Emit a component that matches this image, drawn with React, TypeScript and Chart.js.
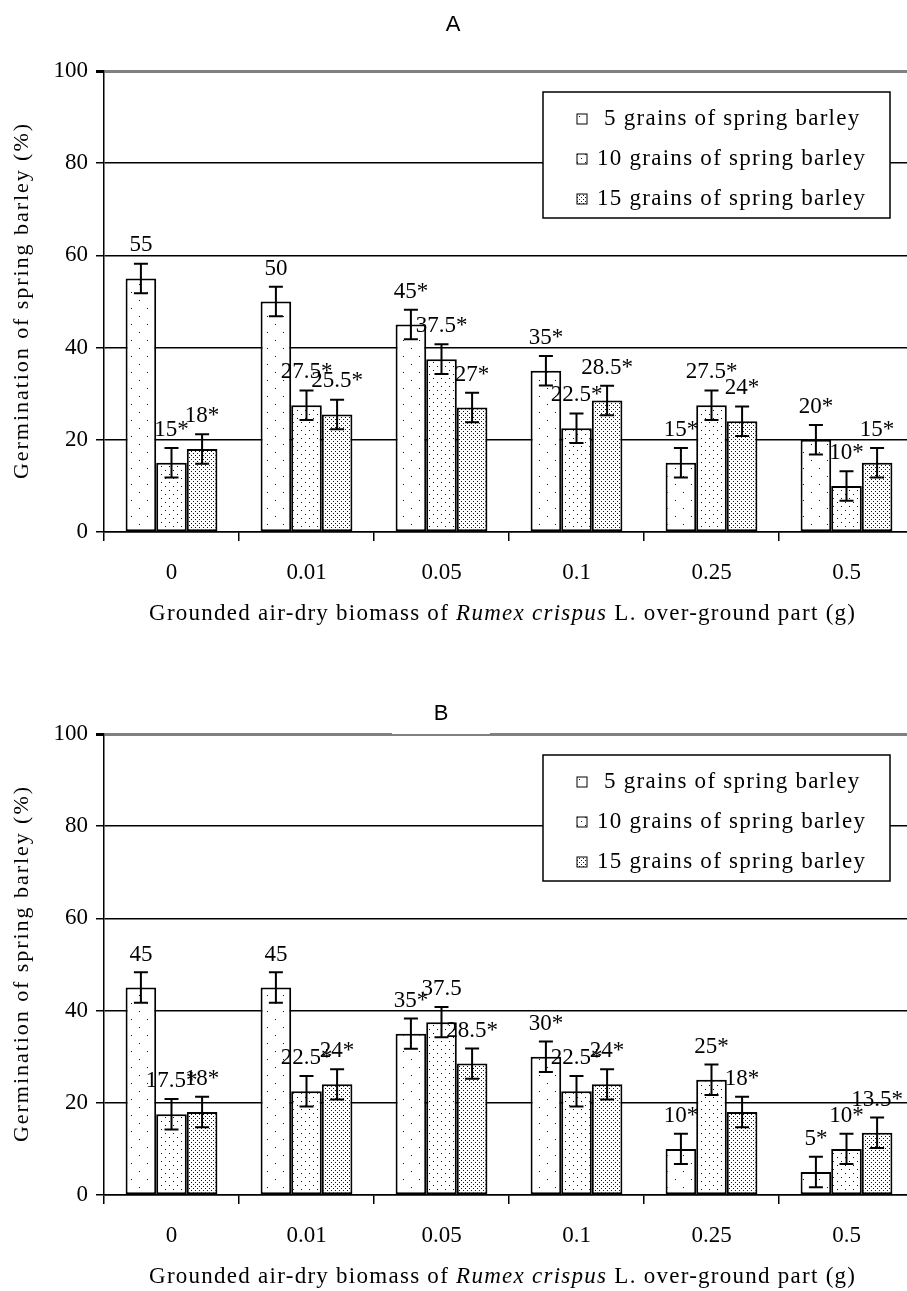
import React, { useEffect, useRef } from "react";
import { Chart, registerables } from "chart.js";

Chart.register(...registerables);

// ---------- data ----------
const categories = ["0", "0.01", "0.05", "0.1", "0.25", "0.5"];
const seriesNames = [
  "5 grains of spring barley",
  "10 grains of spring barley",
  "15 grains of spring barley",
];
const yTickValues = [0, 20, 40, 60, 80, 100];

// Panel A
const a5 = [55, 50, 45, 35, 15, 20];
const a10 = [15, 27.5, 37.5, 22.5, 27.5, 10];
const a15 = [18, 25.5, 27, 28.5, 24, 15];
const aLabels5 = ["55", "50", "45*", "35*", "15*", "20*"];
const aLabels10 = ["15*", "27.5*", "37.5*", "22.5*", "27.5*", "10*"];
const aLabels15 = ["18*", "25.5*", "27*", "28.5*", "24*", "15*"];
const aError = [3.2, 3.2, 3.2];

// Panel B
const b5 = [45, 45, 35, 30, 10, 5];
const b10 = [17.5, 22.5, 37.5, 22.5, 25, 10];
const b15 = [18, 24, 28.5, 24, 18, 13.5];
const bLabels5 = ["45", "45", "35*", "30*", "10*", "5*"];
const bLabels10 = ["17.5*", "22.5*", "37.5", "22.5*", "25*", "10*"];
const bLabels15 = ["18*", "24*", "28.5*", "24*", "18*", "13.5*"];
const bError = [3.3, 3.3, 3.3];

const yTitle = "Germination of spring barley (%)";
const xTitleParts = [
  { text: "Grounded air-dry biomass of ", italic: false },
  { text: "Rumex crispus", italic: true },
  { text: " L. over-ground part (g)", italic: false },
];

// ---------- styles ----------
const SERIF = "'Liberation Serif', 'Times New Roman', serif";
const SANS = "'Liberation Sans', Arial, sans-serif";

type Panel = {
  title: string;
  titleX: number;
  titleY: number;
  values: number[][];
  labels: string[][];
  errors: number[];
  gapInTopLine: boolean;
};

const panelA: Panel = {
  title: "A",
  titleX: 453,
  titleY: 25,
  values: [a5, a10, a15],
  labels: [aLabels5, aLabels10, aLabels15],
  errors: aError,
  gapInTopLine: false,
};
const panelB: Panel = {
  title: "B",
  titleX: 441,
  titleY: 51,
  values: [b5, b10, b15],
  labels: [bLabels5, bLabels10, bLabels15],
  errors: bError,
  gapInTopLine: true,
};

function makePattern(ctx: CanvasRenderingContext2D, w: number, h: number, dots: number[][]) {
  const c = document.createElement("canvas");
  c.width = w;
  c.height = h;
  const g = c.getContext("2d")!;
  g.fillStyle = "#ffffff";
  g.fillRect(0, 0, w, h);
  g.fillStyle = "#111111";
  dots.forEach(([x, y]) => g.fillRect(x, y, 1, 1));
  return ctx.createPattern(c, "repeat")!;
}

function fitSpacing(ctx: CanvasRenderingContext2D, parts: { text: string; font: string }[], target: number) {
  (ctx as any).letterSpacing = "0px";
  let w = 0;
  let n = 0;
  parts.forEach((p) => {
    ctx.font = p.font;
    w += ctx.measureText(p.text).width;
    n += p.text.length;
  });
  const ls = Math.max(-1, Math.min(4, (target - w) / Math.max(1, n - 1)));
  return { ls, total: w + ls * (n - 1) };
}

function buildChart(canvas: HTMLCanvasElement, panel: Panel) {
  const ctx0 = canvas.getContext("2d")!;
  const patterns = [
    makePattern(ctx0, 16, 16, [[3, 4], [11, 12]]),
    makePattern(ctx0, 8, 8, [[1, 2], [5, 6]]),
    makePattern(ctx0, 4, 4, [[1, 1], [3, 3]]),
  ];

  const overlay = {
    id: "overlay",
    afterDatasetsDraw(chart: any) {
      const ctx: CanvasRenderingContext2D = chart.ctx;
      const y = chart.scales.y;
      ctx.save();
      panel.values.forEach((vals, di) => {
        const meta = chart.getDatasetMeta(di);
        meta.data.forEach((bar: any, i: number) => {
          const v = vals[i];
          const e = panel.errors[di];
          const yt = y.getPixelForValue(v + e);
          const yb = y.getPixelForValue(v - e);
          ctx.strokeStyle = "#000";
          ctx.lineWidth = 2;
          ctx.beginPath();
          ctx.moveTo(bar.x, yt);
          ctx.lineTo(bar.x, yb);
          ctx.moveTo(bar.x - 7, yt);
          ctx.lineTo(bar.x + 7, yt);
          ctx.moveTo(bar.x - 7, yb);
          ctx.lineTo(bar.x + 7, yb);
          ctx.stroke();
          ctx.fillStyle = "#000";
          ctx.font = `23px ${SERIF}`;
          ctx.textAlign = "center";
          ctx.textBaseline = "middle";
          ctx.fillText(panel.labels[di][i], bar.x, y.getPixelForValue(v) - 33);
        });
      });
      ctx.restore();
    },
    afterDraw(chart: any) {
      const ctx: CanvasRenderingContext2D = chart.ctx;
      const area = chart.chartArea;
      ctx.save();
      ctx.fillStyle = "#000";
      // panel title
      if (panel.gapInTopLine) {
        ctx.fillStyle = "#fff";
        ctx.fillRect(392, area.top - 2.5, 98, 2.5);
        ctx.fillStyle = "#000";
      }
      ctx.font = `22px ${SANS}`;
      ctx.textAlign = "center";
      ctx.textBaseline = "middle";
      ctx.fillText(panel.title, panel.titleX, panel.titleY);

      // y title
      ctx.save();
      const yFont = `22px ${SERIF}`;
      const fy = fitSpacing(ctx, [{ text: yTitle, font: yFont }], 355);
      ctx.translate(22, (area.top + area.bottom) / 2);
      ctx.rotate(-Math.PI / 2);
      ctx.font = yFont;
      (ctx as any).letterSpacing = fy.ls + "px";
      ctx.textAlign = "left";
      ctx.fillText(yTitle, -fy.total / 2, 0);
      ctx.restore();

      // x title
      const xParts = xTitleParts.map((p) => ({
        text: p.text,
        font: `${p.italic ? "italic " : ""}23px ${SERIF}`,
      }));
      const fx = fitSpacing(ctx, xParts, 706);
      let xx = 502 - fx.total / 2;
      ctx.textAlign = "left";
      (ctx as any).letterSpacing = fx.ls + "px";
      xParts.forEach((p) => {
        ctx.font = p.font;
        ctx.fillText(p.text, xx, 614);
        xx += ctx.measureText(p.text).width;
      });
      (ctx as any).letterSpacing = "0px";

      // legend
      const L = 543, T = area.top + 21, R = 890, B = area.top + 147;
      ctx.fillStyle = "#fff";
      ctx.fillRect(L, T, R - L, B - T);
      ctx.strokeStyle = "#000";
      ctx.lineWidth = 1.5;
      ctx.strokeRect(L, T, R - L, B - T);
      const lFont = `23px ${SERIF}`;
      const fl = fitSpacing(ctx, [{ text: seriesNames[1], font: lFont }], 268);
      ctx.font = lFont;
      (ctx as any).letterSpacing = fl.ls + "px";
      seriesNames.forEach((name, i) => {
        const cy = area.top + 48 + i * 40;
        ctx.fillStyle = patterns[i];
        ctx.fillRect(577, cy - 5, 10, 10);
        ctx.strokeStyle = "#000";
        ctx.lineWidth = 1;
        ctx.strokeRect(577, cy - 5, 10, 10);
        ctx.fillStyle = "#000";
        ctx.textAlign = "left";
        ctx.textBaseline = "middle";
        const pad = /^\d\s/.test(name) ? ctx.measureText(" ").width : 0;
        ctx.fillText(name, 597 + pad, cy);
      });
      ctx.restore();
    },
  };

  return new Chart(canvas, {
    type: "bar",
    data: {
      labels: categories,
      datasets: panel.values.map((vals, i) => ({
        label: seriesNames[i],
        data: vals,
        backgroundColor: patterns[i],
        borderColor: "#000",
        borderWidth: 2,
        borderSkipped: false,
        categoryPercentage: 0.68,
        barPercentage: 1,
      })),
    },
    options: {
      responsive: false,
      animation: false,
      devicePixelRatio: 1,
      layout: { padding: { top: 71, left: 0, right: 0, bottom: 0 } },
      plugins: {
        legend: { display: false },
        title: { display: false },
        tooltip: { enabled: false },
      },
      scales: {
        x: {
          grid: {
            display: true,
            drawOnChartArea: false,
            drawTicks: true,
            tickLength: 9,
            color: "#000",
            lineWidth: 1.5,
            offset: true,
          },
          border: { display: true, color: "#000", width: 1.5 },
          ticks: { font: { family: SERIF, size: 23 }, color: "#000", padding: 18, maxRotation: 0 },
          afterFit: (s: any) => {
            s.height = canvas.height - 532;
          },
        },
        y: {
          min: 0,
          max: 100,
          afterBuildTicks: (s: any) => {
            s.ticks = yTickValues.map((v) => ({ value: v }));
          },
          grid: {
            color: (c: any) => (c.tick && c.tick.value === 100 ? "#808080" : "#000"),
            lineWidth: (c: any) => (c.tick && c.tick.value === 100 ? 3 : 1.5),
            tickColor: "#000",
            tickLength: 8,
            drawTicks: true,
          },
          border: { display: true, color: "#000", width: 1.5 },
          ticks: { font: { family: SERIF, size: 23 }, color: "#000", padding: 8 },
          afterFit: (s: any) => {
            s.width = 104;
          },
        },
      },
    },
    plugins: [overlay],
  } as any);
}

export default function App() {
  const refA = useRef<HTMLCanvasElement>(null);
  const refB = useRef<HTMLCanvasElement>(null);
  useEffect(() => {
    const a = buildChart(refA.current!, panelA);
    const b = buildChart(refB.current!, panelB);
    return () => {
      a.destroy();
      b.destroy();
    };
  }, []);
  return (
    <div
      style={{
        position: "absolute",
        left: 0,
        top: 0,
        width: 907,
        height: 1291,
        overflow: "hidden",
        background: "#fff",
      }}
    >
      <canvas ref={refA} width={914} height={663} style={{ display: "block", width: 914, height: 663 }} />
      <canvas ref={refB} width={914} height={628} style={{ display: "block", width: 914, height: 628 }} />
    </div>
  );
}
